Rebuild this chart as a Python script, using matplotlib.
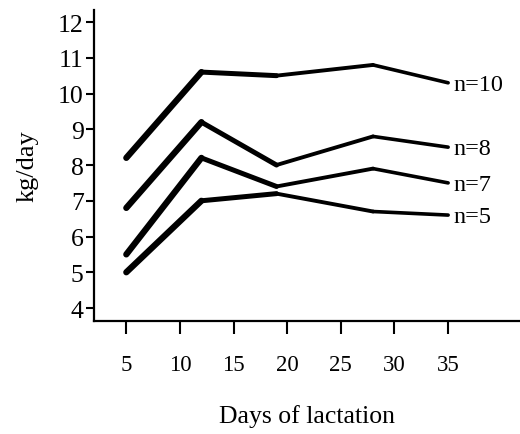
import matplotlib.pyplot as plt

days = [5, 12, 19, 28, 35]
n10 = [8.2, 10.6, 10.5, 10.8, 10.3]
n8 = [6.8, 9.2, 8.0, 8.8, 8.5]
n7 = [5.5, 8.2, 7.4, 7.9, 7.5]
n5 = [5.0, 7.0, 7.2, 6.7, 6.6]
labels = ["n=10", "n=8", "n=7", "n=5"]
series = [n10, n8, n7, n5]

yticks = [4, 5, 6, 7, 8, 9, 10, 11, 12]
xticks = [5, 10, 15, 20, 25, 30, 35]

plt.rcParams['font.family'] = ['Liberation Serif', 'DejaVu Serif']

fig = plt.figure(figsize=(5.2, 4.35), dpi=100)
ax = fig.add_axes([0.181, 0.26, 0.819, 0.715])

# lines get thinner toward the right, like the original drawing
seg_widths = [4.5, 3.6, 2.8, 2.6]
for vals, lab in zip(series, labels):
    for i in range(len(days) - 1):
        ax.plot(days[i:i + 2], vals[i:i + 2], color='black',
                linewidth=seg_widths[i], solid_capstyle='round',
                solid_joinstyle='round')
    ax.text(days[-1] + 0.5, vals[-1] - 0.05, lab, fontsize=17.5,
            va='center', ha='left')

ax.set_xlim(2.0, 41.7)
ax.set_ylim(3.64, 12.34)
ax.set_xticks(xticks)
ax.set_yticks(yticks)
ax.spines['top'].set_visible(False)
ax.spines['right'].set_visible(False)
ax.spines['left'].set_linewidth(1.6)
ax.spines['bottom'].set_linewidth(1.6)
ax.tick_params(axis='x', direction='out', length=9.5, width=1.5,
               labelsize=16.5, pad=14)
ax.tick_params(axis='y', direction='out', length=5.5, width=1.5,
               labelsize=18.5, pad=2)

ax.set_xlabel('Days of lactation', fontsize=18.5, labelpad=21)
ax.set_ylabel('kg/day', fontsize=19, labelpad=14)

fig.savefig('out.png', dpi=100)
